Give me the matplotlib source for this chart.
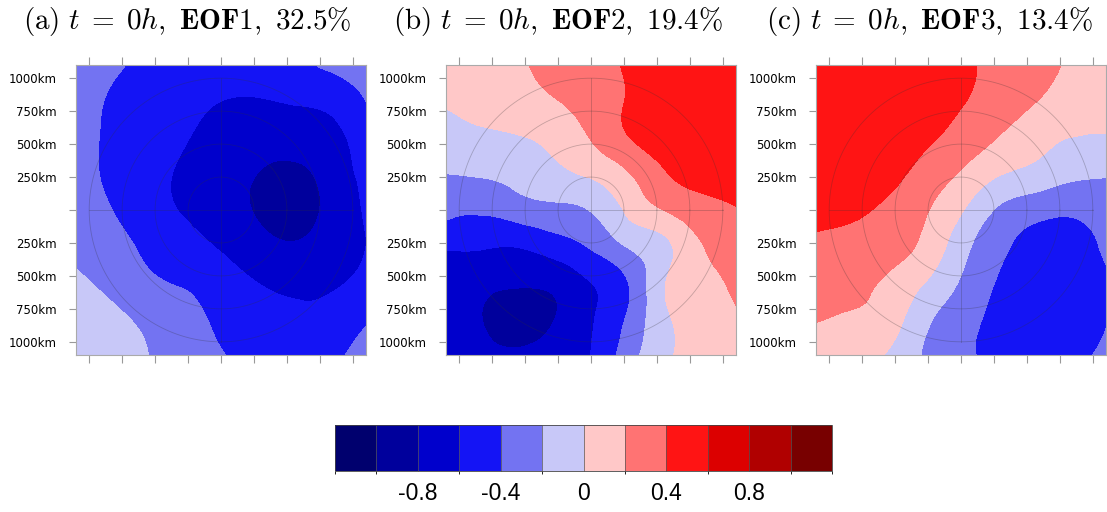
import numpy as np
import matplotlib.pyplot as plt
import matplotlib.tri as mtri
from matplotlib.colors import ListedColormap, BoundaryNorm
from matplotlib.cm import ScalarMappable

plt.rcParams['mathtext.fontset'] = 'cm'

# grid nodes (km), rows listed from north (top) to south (bottom)
xs_km = [-1100, -825, -550, -275, 0, 275, 550, 825, 1100]
ys_km = [1100, 825, 550, 275, 0, -275, -550, -825, -1100]

eof1 = [
    [-0.30, -0.37, -0.45, -0.50, -0.53, -0.50, -0.46, -0.36, -0.30],
    [-0.33, -0.42, -0.50, -0.56, -0.60, -0.61, -0.59, -0.55, -0.40],
    [-0.35, -0.43, -0.52, -0.59, -0.66, -0.70, -0.70, -0.66, -0.50],
    [-0.35, -0.43, -0.53, -0.63, -0.70, -0.80, -0.85, -0.72, -0.55],
    [-0.32, -0.40, -0.50, -0.62, -0.70, -0.82, -0.88, -0.75, -0.58],
    [-0.28, -0.35, -0.43, -0.52, -0.62, -0.72, -0.78, -0.70, -0.60],
    [-0.15, -0.27, -0.37, -0.42, -0.50, -0.60, -0.64, -0.63, -0.55],
    [-0.10, -0.15, -0.25, -0.33, -0.44, -0.50, -0.56, -0.52, -0.42],
    [-0.08, -0.13, -0.20, -0.30, -0.39, -0.45, -0.47, -0.43, -0.36],
]

eof2 = [
    [0.10, 0.13, 0.18, 0.25, 0.32, 0.42, 0.50, 0.55, 0.55],
    [0.01, 0.05, 0.12, 0.19, 0.28, 0.41, 0.50, 0.55, 0.56],
    [-0.05, -0.03, -0.01, 0.06, 0.21, 0.39, 0.48, 0.53, 0.55],
    [-0.20, -0.18, -0.13, -0.05, 0.03, 0.18, 0.38, 0.46, 0.48],
    [-0.33, -0.37, -0.30, -0.25, -0.19, 0.03, 0.20, 0.33, 0.39],
    [-0.58, -0.58, -0.59, -0.50, -0.38, -0.19, -0.05, 0.18, 0.30],
    [-0.65, -0.75, -0.78, -0.75, -0.60, -0.41, -0.02, 0.15, 0.23],
    [-0.68, -0.80, -0.86, -0.80, -0.62, -0.38, -0.05, 0.10, 0.18],
    [-0.65, -0.75, -0.77, -0.72, -0.60, -0.30, -0.05, 0.08, 0.12],
]

eof3 = [
    [0.55, 0.56, 0.55, 0.50, 0.43, 0.36, 0.28, 0.18, 0.12],
    [0.55, 0.55, 0.53, 0.47, 0.41, 0.32, 0.21, 0.12, 0.05],
    [0.54, 0.52, 0.48, 0.43, 0.33, 0.20, 0.08, 0.00, -0.01],
    [0.52, 0.48, 0.45, 0.33, 0.18, 0.02, -0.06, -0.15, -0.18],
    [0.45, 0.43, 0.36, 0.22, 0.02, -0.22, -0.33, -0.37, -0.33],
    [0.37, 0.33, 0.28, 0.15, -0.12, -0.35, -0.45, -0.46, -0.38],
    [0.30, 0.25, 0.17, 0.00, -0.22, -0.41, -0.49, -0.50, -0.42],
    [0.21, 0.18, 0.10, -0.15, -0.32, -0.45, -0.51, -0.50, -0.41],
    [0.12, 0.08, -0.02, -0.22, -0.35, -0.46, -0.48, -0.45, -0.36],
]

panel_tags = ['(a)', '(b)', '(c)']
eof_names = ['EOF1', 'EOF2', 'EOF3']
variance = ['32.5', '19.4', '13.4']

levels = [-1.2, -1.0, -0.8, -0.6, -0.4, -0.2, 0.0, 0.2, 0.4, 0.6, 0.8, 1.0, 1.2]
colors = ['#00006e', '#00009c', '#0000cc', '#1414f5', '#7373f2', '#c8c8f8',
          '#ffc8c8', '#ff7373', '#ff1414', '#dc0000', '#b00000', '#780000']
cbar_ticks = [-0.8, -0.4, 0, 0.4, 0.8]
cbar_labels = ['-0.8', '-0.4', '0', '0.4', '0.8']

ytick_pos = [1000, 750, 500, 250, 0, -250, -500, -750, -1000]
ytick_lab = ['1000km', '750km', '500km', '250km', '', '250km', '500km', '750km', '1000km']
ring_radii = [250, 500, 750, 1000]

cmap = ListedColormap(colors)
norm = BoundaryNorm(levels, cmap.N)

fig = plt.figure(figsize=(11.07, 5.12), dpi=100)

lefts = [76 / 1107, 446 / 1107, 816 / 1107]
title_x = [187 / 1107, 558 / 1107, 929 / 1107]
fields = [eof1, eof2, eof3]

X, Y = np.meshgrid(xs_km, ys_km)
tri = mtri.Triangulation(X.ravel(), Y.ravel())
refiner = mtri.UniformTriRefiner(tri)
theta = np.linspace(0, 2 * np.pi, 361)

for i in range(3):
    ax = fig.add_axes([lefts[i], 1 - 355 / 512, 290 / 1107, 290 / 512])
    z = np.array(fields[i]).ravel()
    tri_f, z_f = refiner.refine_field(z, subdiv=4)
    ax.tricontourf(tri_f, z_f, levels=levels, cmap=cmap, norm=norm)
    # polar range rings and cross lines
    for r in ring_radii:
        ax.plot(r * np.cos(theta), r * np.sin(theta), color='#333333', lw=0.6, alpha=0.28)
    ax.plot([-1000, 1000], [0, 0], color='#333333', lw=0.6, alpha=0.28)
    ax.plot([0, 0], [-1000, 1000], color='#333333', lw=0.6, alpha=0.28)
    ax.set_xlim(-1100, 1100)
    ax.set_ylim(-1100, 1100)
    ax.set_xticks(ytick_pos)
    ax.set_yticks(ytick_pos)
    ax.set_yticklabels(ytick_lab, fontsize=8.5, family='DejaVu Sans')
    ax.tick_params(axis='x', top=True, bottom=True, labelbottom=False,
                   direction='out', length=6, color='#999999')
    ax.tick_params(axis='y', left=True, right=False, direction='out',
                   length=5, color='#999999', pad=9)
    for s in ax.spines.values():
        s.set_color('#aaaaaa')
        s.set_linewidth(0.8)
    title = (r'$\mathrm{' + panel_tags[i] + r'}\ t\;=\;0h,\ \mathbf{' + eof_names[i]
             + r'},\ \mathrm{' + variance[i] + r'\%}$')
    fig.text(title_x[i], 1 - 22 / 512, title, ha='center', va='center', fontsize=21)

cax = fig.add_axes([335 / 1107, 1 - 471 / 512, 497 / 1107, 46 / 512])
sm = ScalarMappable(norm=norm, cmap=cmap)
cb = fig.colorbar(sm, cax=cax, orientation='horizontal', drawedges=True,
                  ticks=cbar_ticks)
cb.ax.set_xticklabels(cbar_labels, fontsize=16.5, family='Liberation Sans')
cb.ax.tick_params(length=0, pad=8)
cb.outline.set_linewidth(0.6)
cb.outline.set_edgecolor('#444444')
cb.dividers.set_color('#555555')
cb.dividers.set_linewidth(0.5)

fig.savefig('out.png', dpi=100)
